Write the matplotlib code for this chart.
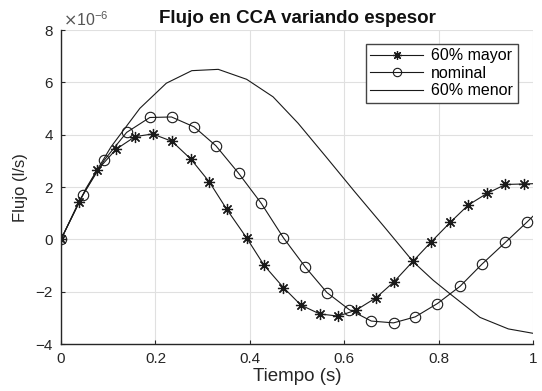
import matplotlib.pyplot as plt

plt.rcParams['font.family'] = ['Liberation Sans', 'DejaVu Sans']

# Flow over time for three wall thicknesses (values in 1e-6 l/s)
t_mayor = [0, 0.038, 0.077, 0.117, 0.157, 0.194, 0.235, 0.275, 0.314, 0.351,
           0.393, 0.430, 0.471, 0.508, 0.548, 0.587, 0.625, 0.667, 0.705,
           0.746, 0.784, 0.824, 0.862, 0.902, 0.941, 0.981, 1.0]
q_mayor = [0, 1.44, 2.65, 3.45, 3.93, 4.03, 3.75, 3.07, 2.20, 1.15,
           0.06, -0.99, -1.84, -2.51, -2.85, -2.93, -2.70, -2.23, -1.62,
           -0.82, -0.09, 0.65, 1.31, 1.76, 2.10, 2.12, 2.13]

t_nominal = [0, 0.046, 0.092, 0.139, 0.188, 0.234, 0.282, 0.328, 0.376,
             0.424, 0.471, 0.517, 0.563, 0.610, 0.657, 0.704, 0.750, 0.797,
             0.845, 0.891, 0.941, 0.987, 1.0]
q_nominal = [0, 1.69, 3.04, 4.09, 4.66, 4.68, 4.30, 3.58, 2.53,
             1.38, 0.06, -1.05, -2.03, -2.68, -3.12, -3.19, -2.96, -2.45,
             -1.79, -0.95, -0.11, 0.67, 0.90]

t_menor = [0, 0.053, 0.106, 0.167, 0.223, 0.277, 0.333, 0.393, 0.449,
           0.502, 0.561, 0.622, 0.684, 0.746, 0.788, 0.823, 0.887, 0.947, 1.0]
q_menor = [0, 1.95, 3.54, 5.01, 5.97, 6.45, 6.50, 6.12, 5.45,
           4.44, 3.16, 1.82, 0.49, -0.86, -1.56, -2.07, -2.98, -3.42, -3.59]

x_ticks = [0, 0.2, 0.4, 0.6, 0.8, 1]
y_ticks = [-4, -2, 0, 2, 4, 6, 8]

line_color = '#1a1a1a'
axis_color = '#262626'

fig = plt.figure(figsize=(5.42, 3.91), dpi=100)
ax = fig.add_axes([0.1125, 0.12, 0.8715, 0.803])

ax.plot(t_mayor, q_mayor, color=line_color, lw=0.8, marker=(8, 2, 0),
        markersize=8, markeredgewidth=0.9, markevery=slice(0, -1),
        label='60% mayor')
ax.plot(t_nominal, q_nominal, color=line_color, lw=0.8, marker='o',
        markersize=7.5, markerfacecolor='none', markeredgewidth=0.8,
        markevery=slice(0, -1), label='nominal')
ax.plot(t_menor, q_menor, color=line_color, lw=0.8, label='60% menor')

ax.set_xlim(0, 1)
ax.set_ylim(-4, 8)
ax.set_xticks(x_ticks)
ax.set_xticklabels(['0', '0.2', '0.4', '0.6', '0.8', '1'])
ax.set_yticks(y_ticks)
ax.grid(True, color='#e0e0e0', lw=0.8)
ax.set_axisbelow(True)

for side in ['top', 'right']:
    ax.spines[side].set_visible(False)
for side in ['left', 'bottom']:
    ax.spines[side].set_color(axis_color)
    ax.spines[side].set_linewidth(1.0)
ax.tick_params(direction='in', length=3, width=0.8, color=axis_color,
               labelsize=11, labelcolor=axis_color, pad=6)

ax.text(0.004, 1.003, r'$\times\mathregular{10^{-6}}$', transform=ax.transAxes,
        fontsize=11.5, color='#555555', ha='left', va='bottom')

ax.set_title('Flujo en CCA variando espesor', fontsize=13.5, fontweight='bold',
             color='#111111', pad=5)
ax.set_xlabel('Tiempo (s)', fontsize=13.5, color=axis_color, labelpad=1)
ax.set_ylabel('Flujo (l/s)', fontsize=12, color=axis_color, labelpad=5)

leg = ax.legend(loc='upper right', bbox_to_anchor=(0.967, 0.957),
                borderaxespad=0, fontsize=11.5, markerscale=0.8,
                handlelength=3.3, handletextpad=0.5, borderpad=0.3,
                labelspacing=0.15, fancybox=False, framealpha=1,
                edgecolor='#444444')
leg.get_frame().set_linewidth(1.0)

fig.savefig('out.png', dpi=100)
